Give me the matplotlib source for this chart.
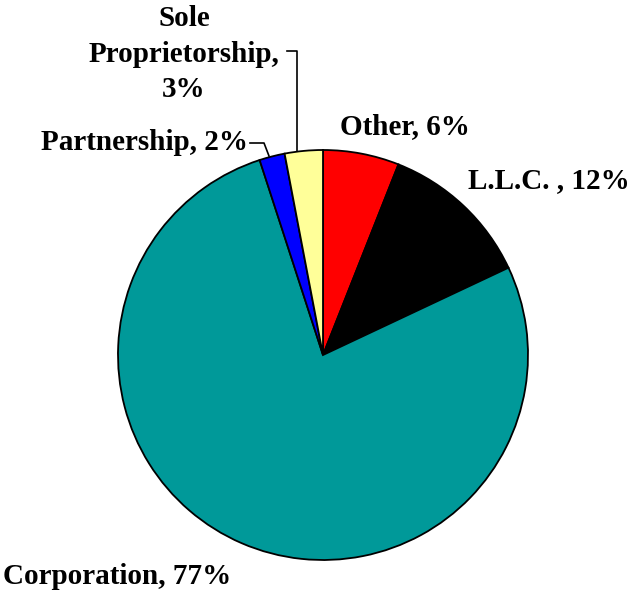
import matplotlib
matplotlib.use('Agg')
import matplotlib.pyplot as plt

# slices, clockwise from 12 o'clock
labels = ['Other', 'L.L.C. ', 'Corporation', 'Partnership', 'Sole\nProprietorship']
shares = [6, 12, 77, 2, 3]
colors = ['#FF0000', '#000000', '#009999', '#0000FF', '#FFFF99']

W, H = 640, 592
fig = plt.figure(figsize=(W / 100, H / 100), dpi=100)
ax = fig.add_axes([0, 0, 1, 1])

cx, cy, r = 323, H - 355, 205
ax.pie(shares, colors=colors, startangle=90, counterclock=False,
       center=(cx, cy), radius=r, frame=True,
       wedgeprops=dict(edgecolor='black', linewidth=1.3))
ax.set_xlim(0, W)
ax.set_ylim(0, H)
ax.set_aspect('equal')
ax.set_axis_off()

font = dict(family=['Liberation Serif', 'DejaVu Serif'], weight='bold', fontsize=21)

def lab(i):
    sep = '\n' if '\n' in labels[i] else ' '
    return '{},{}{}%'.format(labels[i], sep, shares[i])

ax.text(340, H - 127, lab(0), ha='left', va='center', **font)
ax.text(468, H - 181, lab(1), ha='left', va='center', **font)
ax.text(3, H - 577, lab(2), ha='left', va='center', **font)
ax.text(248, H - 143, lab(3), ha='right', va='center', **font)
ax.text(184, H - 54, lab(4), ha='center', va='center', linespacing=1.4, **font)

# leader lines
ax.plot([250, 264, 269], [H - 143, H - 143, H - 156], color='black', lw=1.2)
ax.plot([287, 297, 297], [H - 51, H - 51, H - 151], color='black', lw=1.2)

fig.savefig('out.png', dpi=100)
